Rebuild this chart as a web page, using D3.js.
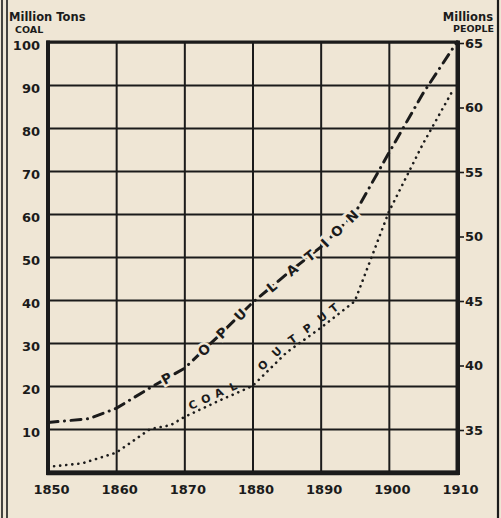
<!DOCTYPE html>
<html>
<head>
<meta charset="utf-8">
<script src="https://cdn.jsdelivr.net/npm/d3@7"></script>
<style>
  body { margin: 0; background: #efe6d5; }
  svg { display: block; }
  .tick-label { font-family: "DejaVu Sans", sans-serif; font-weight: bold; fill: #1b1b1b; }
</style>
</head>
<body>
<div id="chart"></div>
<script>
// decades on the x axis
const xTicks = [1850, 1860, 1870, 1880, 1890, 1900, 1910]
const coalTicks = [10, 20, 30, 40, 50, 60, 70, 80, 90, 100]
const peopleTicks = [35, 40, 45, 50, 55, 60, 65]

// population, millions (right scale)
const popYears = [1850, 1856, 1860, 1865, 1870, 1875, 1880, 1885, 1890, 1895, 1900, 1905, 1910]
const popValues = [35.5, 35.8, 36.6, 38.2, 39.7, 42.2, 44.8, 47.0, 49.1, 51.7, 56.4, 61.0, 65.0]

// coal output, million tons (left scale)
const coalYears = [1850, 1855, 1860, 1865, 1868, 1870, 1875, 1880, 1885, 1890, 1895, 1900, 1905, 1909.3]
const coalValues = [1.2, 2.0, 4.5, 10.0, 10.9, 12.8, 16.5, 20.0, 27.8, 33.5, 39.7, 60.5, 76.3, 88.5]

// lettering written along the lines: [letter, year]
const popLetters = [["P", 1867.4], ["O", 1872.9], ["P", 1875.5], ["U", 1878.2], ["L", 1882.8],
                    ["A", 1885.8], ["T", 1888.4], ["I", 1890.6], ["O", 1892.4], ["N", 1894.6]]
const coalLetters = [["C", 1871.7], ["O", 1873.6], ["A", 1875.5], ["L", 1877.6],
                     ["O", 1882.3], ["U", 1884.3], ["T", 1886.5], ["P", 1888.7], ["U", 1890.9], ["T", 1892.6]]

const width = 501, height = 518
const margin = {top: 42, right: 44, bottom: 46, left: 48}
const ink = "#1b1b1b", paper = "#efe6d5"

const svg = d3.select("#chart").append("svg")
    .attr("width", width)
    .attr("height", height)
    .style("background", paper)

const x = d3.scaleLinear().domain([1850, 1910]).range([margin.left, width - margin.right])
const y = d3.scaleLinear().domain([0, 100]).range([height - margin.bottom, margin.top])
// right scale lines up 35 with 10, 65 with 100
const y2 = d3.scaleLinear().domain([35 - 10 / 3, 65]).range([height - margin.bottom, margin.top])

// outer frame lines of the page
svg.append("line").attr("x1", 2).attr("x2", 2).attr("y1", 0).attr("y2", height)
    .attr("stroke", ink).attr("stroke-width", 1.6)
svg.append("line").attr("x1", 7).attr("x2", 7).attr("y1", 0).attr("y2", height)
    .attr("stroke", ink).attr("stroke-width", 1.6)
svg.append("line").attr("x1", 498).attr("x2", 498).attr("y1", 0).attr("y2", height)
    .attr("stroke", ink).attr("stroke-width", 2.2)

// grid
svg.append("g")
    .attr("transform", `translate(${margin.left},0)`)
    .call(d3.axisLeft(y).tickValues(coalTicks).tickSize(-(width - margin.left - margin.right)).tickFormat(""))
    .call(g => g.select(".domain").remove())
    .call(g => g.selectAll("line").attr("stroke", ink).attr("stroke-width", 2))

svg.append("g")
    .attr("transform", `translate(0,${height - margin.bottom})`)
    .call(d3.axisBottom(x).tickValues(xTicks).tickSize(-(height - margin.top - margin.bottom)).tickFormat(""))
    .call(g => g.select(".domain").remove())
    .call(g => g.selectAll("line").attr("stroke", ink).attr("stroke-width", 2))

// heavy plot border
svg.append("rect")
    .attr("x", margin.left).attr("y", margin.top)
    .attr("width", width - margin.left - margin.right)
    .attr("height", height - margin.top - margin.bottom)
    .attr("fill", "none").attr("stroke", ink).attr("stroke-width", 3)
svg.append("line")
    .attr("x1", margin.left - 1.5).attr("x2", width - margin.right + 2)
    .attr("y1", y(0) + 1).attr("y2", y(0) + 1)
    .attr("stroke", ink).attr("stroke-width", 4.5)
svg.append("line")
    .attr("x1", width - margin.right + 1).attr("x2", width - margin.right + 1)
    .attr("y1", margin.top - 1.5).attr("y2", y(0) + 3)
    .attr("stroke", ink).attr("stroke-width", 4)
svg.append("line")
    .attr("x1", margin.left).attr("x2", margin.left)
    .attr("y1", margin.top - 1.5).attr("y2", y(0) + 3)
    .attr("stroke", ink).attr("stroke-width", 4)

// left axis labels
svg.append("g")
    .attr("transform", `translate(${margin.left},3)`)
    .call(d3.axisLeft(y).tickValues(coalTicks).tickSize(0).tickPadding(8))
    .call(g => g.select(".domain").remove())
    .call(g => g.selectAll("text").attr("class", "tick-label").style("font-size", "13px"))

// right axis labels with short ticks
svg.append("g")
    .attr("transform", `translate(${width - margin.right + 2},1)`)
    .call(d3.axisRight(y2).tickValues(peopleTicks).tickSize(5).tickPadding(1))
    .call(g => g.select(".domain").remove())
    .call(g => g.selectAll("line").attr("stroke", ink).attr("stroke-width", 1.6))
    .call(g => g.selectAll("text").attr("class", "tick-label").style("font-size", "13px"))

// bottom axis labels
svg.append("g")
    .attr("transform", `translate(3,${height - margin.bottom + 10})`)
    .call(d3.axisBottom(x).tickValues(xTicks).tickSize(0).tickFormat(d3.format("d")))
    .call(g => g.select(".domain").remove())
    .call(g => g.selectAll("text").attr("class", "tick-label").style("font-size", "13px"))

// axis titles
const title = (txt, tx, ty, size, anchor) => svg.append("text")
    .attr("x", tx).attr("y", ty).attr("text-anchor", anchor)
    .attr("class", "tick-label").style("font-size", size + "px").text(txt)
title("Million Tons", 9, 21, 11.5, "start")
title("COAL", 15, 33, 9.5, "start")
title("Millions", 493, 21, 11.5, "end")
title("PEOPLE", 494, 32, 9.5, "end")

// lines
const popLine = d3.line().x((d, i) => x(popYears[i])).y(d => y2(d))
const coalLine = d3.line().x((d, i) => x(coalYears[i])).y(d => y(d))

svg.append("path")
    .attr("d", coalLine(coalValues))
    .attr("fill", "none").attr("stroke", ink)
    .attr("stroke-width", 2.6).attr("stroke-linecap", "round")
    .attr("stroke-dasharray", "0.1,6")

svg.append("path")
    .attr("d", popLine(popValues))
    .attr("fill", "none").attr("stroke", ink)
    .attr("stroke-width", 3).attr("stroke-linecap", "round")
    .attr("stroke-dasharray", "10,6.5,0.1,6.5")

// place a letter on a series at a given year, rotated with the line
function placeLetters(letters, years, values, yScale, offset, size, halo){
    letters.forEach(([ch, yr]) => {
        let i = d3.bisectRight(years, yr) - 1
        i = Math.max(0, Math.min(i, years.length - 2))
        const x0 = x(years[i]), x1 = x(years[i + 1])
        const y0 = yScale(values[i]), y1 = yScale(values[i + 1])
        const t = (x(yr) - x0) / (x1 - x0)
        const px = x0 + t * (x1 - x0), py = y0 + t * (y1 - y0)
        const ang = Math.atan2(y1 - y0, x1 - x0)
        const ox = Math.sin(ang) * offset, oy = -Math.cos(ang) * offset
        const txt = svg.append("text")
            .attr("transform", `translate(${px + ox},${py + oy}) rotate(${ang * 180 / Math.PI})`)
            .attr("text-anchor", "middle").attr("dy", "0.36em")
            .attr("class", "tick-label").style("font-size", size + "px")
            .text(ch)
        if (halo) txt.attr("stroke", paper).attr("stroke-width", 5).attr("paint-order", "stroke")
    })
}
placeLetters(popLetters, popYears, popValues, y2, 0, 13.5, true)
placeLetters(coalLetters, coalYears, coalValues, y, 7.5, 11, false)
</script>
</body>
</html>
